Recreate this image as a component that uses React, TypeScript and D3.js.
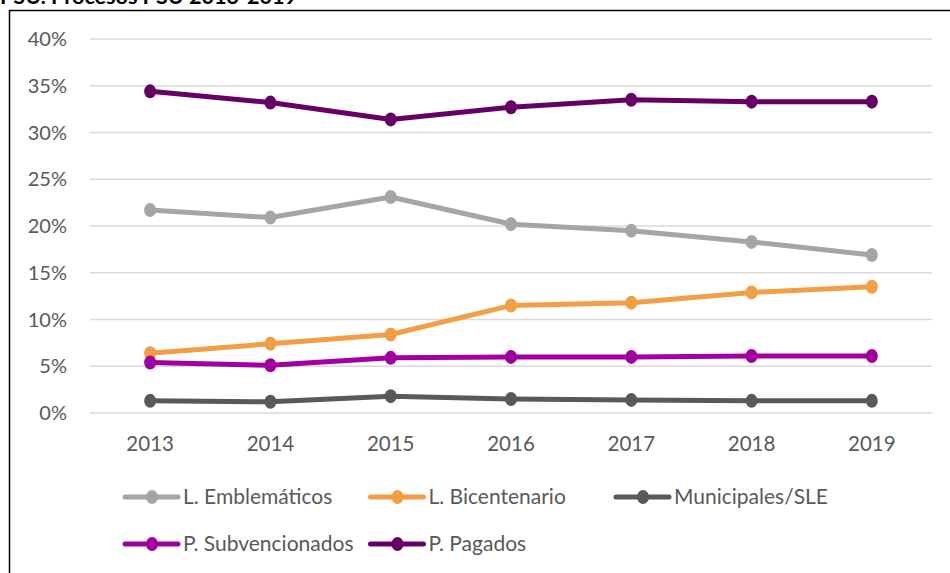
import React from "react";
import * as d3 from "d3";

const years = ["2013", "2014", "2015", "2016", "2017", "2018", "2019"];
const yTicks = [0, 0.05, 0.1, 0.15, 0.2, 0.25, 0.3, 0.35, 0.4];

const emblematicos = [0.217, 0.209, 0.231, 0.202, 0.195, 0.183, 0.169];
const bicentenario = [0.064, 0.074, 0.084, 0.115, 0.118, 0.129, 0.135];
const municipales = [0.013, 0.012, 0.018, 0.015, 0.014, 0.013, 0.013];
const subvencionados = [0.054, 0.051, 0.059, 0.06, 0.06, 0.061, 0.061];
const pagados = [0.344, 0.332, 0.314, 0.327, 0.335, 0.333, 0.333];

const seriesNames = [
  "L. Emblemáticos",
  "L. Bicentenario",
  "Municipales/SLE",
  "P. Subvencionados",
  "P. Pagados",
];
const seriesColors = ["#A5A5A5", "#F19E44", "#595959", "#A1009F", "#660066"];
const seriesValues = [emblematicos, bicentenario, municipales, subvencionados, pagados];

const FONT = "Lato, 'Open Sans', sans-serif";

export default function App() {
  const width = 950;
  const height = 573;

  const x = d3.scalePoint<string>().domain(years).range([90, 932]).padding(0.5);
  const y = d3.scaleLinear().domain([0, 0.4]).range([413, 39]);

  const line = d3
    .line<number>()
    .x((_, i) => x(years[i]) as number)
    .y((d) => y(d));

  // legend: 3 columns on first row, 2 on second
  const legendY = (i: number) => (i < 3 ? 497 : 544);
  const legendCol = (i: number) => (i < 3 ? i : i - 3);

  return (
    <div style={{ position: "absolute", left: 0, top: 0 }}>
      <svg width={width} height={height} style={{ display: "block", background: "#fff" }}>
        {/* title, clipped at the top edge like the source */}
        <text x={0} y={4} fontFamily={FONT} fontSize={20} fontWeight={700} fill="#000" textLength={297} lengthAdjust="spacingAndGlyphs">
          PSU. Procesos PSU 2013-2019
        </text>
        {/* chart border */}
        <rect x={9.5} y={10.5} width={960} height={600} fill="none" stroke="#000" strokeWidth={1.5} />

        {/* gridlines */}
        {yTicks.map((t) => (
          <line key={t} x1={90} x2={932} y1={y(t)} y2={y(t)} stroke="#D9D9D9" strokeWidth={1.5} />
        ))}
        {/* y labels */}
        {yTicks.map((t) => (
          <text key={"l" + t} x={67} y={y(t)} dy="0.35em" textAnchor="end" fontFamily={FONT} fontSize={20} fill="#595959">
            {d3.format(".0%")(t)}
          </text>
        ))}
        {/* x labels */}
        {years.map((yr) => (
          <text key={yr} x={x(yr)} y={444} dy="0.35em" textAnchor="middle" fontFamily={FONT} fontSize={20.5} fill="#595959">
            {yr}
          </text>
        ))}

        {/* series */}
        {seriesValues.map((vals, s) => (
          <g key={seriesNames[s]}>
            <path d={line(vals) || ""} fill="none" stroke={seriesColors[s]} strokeWidth={5} strokeLinejoin="round" />
            {vals.map((v, i) => (
              <ellipse key={i} cx={x(years[i])} cy={y(v)} rx={6} ry={7} fill={seriesColors[s]} />
            ))}
          </g>
        ))}

        {/* legend */}
        {seriesNames.map((name, i) => {
          const lx = 125 + legendCol(i) * 245.5;
          const ly = legendY(i);
          return (
            <g key={"lg" + name}>
              <line x1={lx} x2={lx + 53} y1={ly} y2={ly} stroke={seriesColors[i]} strokeWidth={5} strokeLinecap="round" />
              <ellipse cx={lx + 27} cy={ly} rx={6} ry={7} fill={seriesColors[i]} />
              <text x={lx + 58} y={ly} dy="0.35em" fontFamily={FONT} fontSize={21} fill="#595959">
                {name}
              </text>
            </g>
          );
        })}
      </svg>
    </div>
  );
}
